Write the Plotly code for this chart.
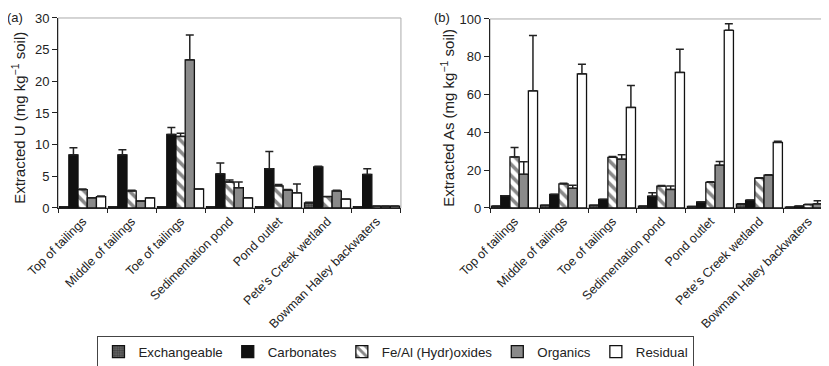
import plotly.graph_objects as go

sites = ["Top of tailings", "Middle of tailings", "Toe of tailings", "Sedimentation pond",
         "Pond outlet", "Pete\u2019s Creek wetland", "Bowman Haley backwaters"]
fractions = ["Exchangeable", "Carbonates", "Fe/Al (Hydr)oxides", "Organics", "Residual"]

# Panel (a): extracted U (mg/kg soil)
u_exch = [0.2, 0.2, 0.2, 0.2, 0.2, 0.8, 0.2]
u_exch_err = [0, 0, 0, 0, 0, 0.1, 0]
u_carb = [8.4, 8.4, 11.6, 5.4, 6.2, 6.5, 5.3]
u_carb_err = [1.1, 0.8, 1.1, 1.7, 2.7, 0.1, 0.9]
u_feal = [2.9, 2.7, 11.3, 4.1, 3.5, 1.8, 0.3]
u_feal_err = [0.1, 0.1, 0.5, 0.3, 0.2, 0.0, 0.0]
u_org = [1.6, 1.1, 23.4, 3.2, 2.8, 2.7, 0.3]
u_org_err = [0.0, 0.0, 3.9, 0.9, 0.1, 0.1, 0.0]
u_res = [1.8, 1.6, 3.0, 1.6, 2.4, 1.4, 0.3]
u_res_err = [0.1, 0.0, 0.0, 0.0, 1.4, 0.0, 0.0]

# Panel (b): extracted As (mg/kg soil)
as_exch = [1.0, 1.5, 1.5, 1.0, 0.8, 2.0, 0.5]
as_exch_err = [0, 0, 0, 0, 0, 0.3, 0]
as_carb = [6.5, 7.2, 4.6, 6.2, 3.2, 4.2, 1.0]
as_carb_err = [0.0, 0.0, 0.0, 1.8, 0.0, 0.0, 0.0]
as_feal = [27.0, 12.8, 26.8, 11.6, 13.6, 15.8, 1.8]
as_feal_err = [5.0, 0.3, 0.5, 0.3, 0.3, 0.2, 0.2]
as_org = [17.8, 10.4, 25.8, 9.8, 22.6, 17.4, 2.2]
as_org_err = [6.6, 1.6, 2.4, 1.8, 2.0, 0.2, 1.6]
as_res = [62.0, 71.0, 53.2, 71.7, 94.0, 34.7, 2.6]
as_res_err = [29.2, 5.0, 11.6, 12.3, 3.5, 0.6, 0.2]

u_title = "Extracted U (mg kg<sup>\u22121</sup> soil)"
as_title = "Extracted As (mg kg<sup>\u22121</sup> soil)"

u_vals = [(u_exch, u_exch_err), (u_carb, u_carb_err), (u_feal, u_feal_err),
          (u_org, u_org_err), (u_res, u_res_err)]
as_vals = [(as_exch, as_exch_err), (as_carb, as_carb_err), (as_feal, as_feal_err),
           (as_org, as_org_err), (as_res, as_res_err)]

styles = [
    dict(color="#555555", pattern=dict(shape=".", fgcolor="#1a1a1a", bgcolor="#6a6a6a", size=3, solidity=0.5)),
    dict(color="#111111"),
    dict(color="white", pattern=dict(shape="\\", fgcolor="#111111", bgcolor="white", size=8, solidity=0.45)),
    dict(color="#8a8a8a"),
    dict(color="white"),
]

fig = go.Figure()
for panel, vals in enumerate([u_vals, as_vals]):
    xa = "x" if panel == 0 else "x2"
    ya = "y" if panel == 0 else "y2"
    for i, (v, e) in enumerate(vals):
        st = styles[i]
        marker = dict(color=st["color"], line=dict(color="#111111", width=1.3))
        if "pattern" in st:
            marker["pattern"] = st["pattern"]
        fig.add_trace(go.Bar(
            x=sites, y=v, name=fractions[i], xaxis=xa, yaxis=ya,
            marker=marker, showlegend=(panel == 0),
            error_y=dict(type="data", array=e, arrayminus=[0] * len(e), symmetric=False,
                         color="#222222", thickness=1.5, width=4),
        ))

font = "Liberation Sans, Arial, sans-serif"
xcommon = dict(type="category", tickson="boundaries", ticks="outside", ticklen=4,
               tickcolor="#222", showline=True, linecolor="#222", linewidth=1.3,
               tickangle=-45, tickfont=dict(size=12.5, color="#222", family=font),
               showgrid=False, automargin=False)
ycommon = dict(ticks="outside", ticklen=5, tickcolor="#222", showline=True, linecolor="#222",
               linewidth=1.3, showgrid=False, zeroline=False,
               tickfont=dict(size=13, color="#222", family=font), automargin=False)

fig.update_layout(
    width=829, height=366,
    margin=dict(l=0, r=0, t=0, b=0),
    paper_bgcolor="white", plot_bgcolor="white",
    barmode="group", bargap=0.06, bargroupgap=0,
    font=dict(family=font, color="#222"),
    xaxis=dict(domain=[0.0605, 0.474], anchor="y", **xcommon),
    yaxis=dict(domain=[0.4536, 0.9727], anchor="x", range=[0, 30], dtick=5, **ycommon),
    xaxis2=dict(domain=[0.5815, 0.995], anchor="y2", **xcommon),
    yaxis2=dict(domain=[0.4536, 0.9700], anchor="x2", range=[0, 100], dtick=20, **ycommon),
    legend=dict(orientation="h", x=0.468, xanchor="center", y=0.105, yanchor="top",
                bordercolor="#444", borderwidth=1, font=dict(size=13.3, family=font),
                traceorder="normal", itemwidth=30, bgcolor="white"),
    annotations=[
        dict(text="(a)", x=0, y=1.0, xref="paper", yref="paper", xanchor="left", yanchor="top",
             showarrow=False, font=dict(size=13), xshift=-3),
        dict(text="(b)", x=0.508, y=1.0, xref="paper", yref="paper", xanchor="left", yanchor="top",
             showarrow=False, font=dict(size=13), xshift=3),
        dict(text=u_title, x=11 / 829, y=0.70, xref="paper", yref="paper", textangle=-90,
             xanchor="center", yanchor="middle", showarrow=False, font=dict(size=15)),
        dict(text=as_title, x=440 / 829, y=0.70, xref="paper", yref="paper", textangle=-90,
             xanchor="center", yanchor="middle", showarrow=False, font=dict(size=15)),
    ],
    shapes=[
        dict(type="rect", xref="x domain", yref="y domain", x0=0, x1=1, y0=0, y1=1,
             line=dict(color="#aaaaaa", width=1), layer="below"),
        dict(type="rect", xref="x2 domain", yref="y2 domain", x0=0, x1=1, y0=0, y1=1,
             line=dict(color="#aaaaaa", width=1), layer="below"),
    ],
)

fig.write_html("out.html")
